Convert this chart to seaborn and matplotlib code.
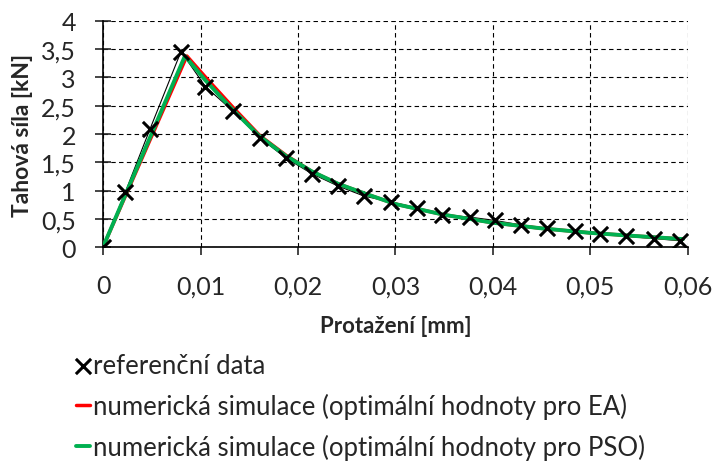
import numpy as np
import pandas as pd
import matplotlib
matplotlib.use("Agg")
import matplotlib.pyplot as plt
import seaborn as sns

# referenční data (měřené body)
ref_x = [0.0, 0.00228, 0.0048, 0.0080, 0.0105, 0.0133, 0.0161, 0.0188, 0.0214,
         0.0241, 0.0268, 0.0295, 0.0322, 0.0348, 0.0376, 0.0402, 0.0429, 0.0456,
         0.0484, 0.0510, 0.0537, 0.0565, 0.0592]
ref_y = [0.0, 0.97, 2.08, 3.46, 2.84, 2.41, 1.93, 1.57, 1.30,
         1.08, 0.90, 0.80, 0.69, 0.57, 0.53, 0.47, 0.39, 0.33,
         0.28, 0.23, 0.19, 0.15, 0.11]

# numerická simulace - EA
ea_x = [0.0, 0.0086, 0.0107, 0.0134, 0.0161, 0.0188, 0.0214, 0.0241, 0.0268,
        0.030, 0.035, 0.040, 0.045, 0.050, 0.055, 0.0595]
ea_y = [0.0, 3.38, 2.97, 2.46, 1.97, 1.62, 1.34, 1.12, 0.95,
        0.76, 0.57, 0.43, 0.33, 0.25, 0.19, 0.14]

# numerická simulace - PSO
pso_x = [0.0, 0.0084, 0.0105, 0.0132, 0.0160, 0.0187, 0.0214, 0.0241, 0.0268,
         0.030, 0.035, 0.040, 0.045, 0.050, 0.055, 0.0595]
pso_y = [0.0, 3.38, 2.95, 2.45, 1.97, 1.62, 1.34, 1.12, 0.95,
         0.76, 0.57, 0.43, 0.33, 0.25, 0.19, 0.14]

x_ticks = [0, 0.01, 0.02, 0.03, 0.04, 0.05, 0.06]
x_tick_labels = ["0", "0,01", "0,02", "0,03", "0,04", "0,05", "0,06"]
y_ticks = [0, 0.5, 1, 1.5, 2, 2.5, 3, 3.5, 4]
y_tick_labels = ["0", "0,5", "1", "1,5", "2", "2,5", "3", "3,5", "4"]

sns.set_style("white")
plt.rcParams["font.family"] = ["Lato", "DejaVu Sans"]

fig = plt.figure(figsize=(7.18, 4.64), dpi=100)
ax = fig.add_axes([0.1435, 0.4655, 0.8145, 0.4871])

# tenká spojnice referenčních bodů
sns.lineplot(x=ref_x, y=ref_y, ax=ax, color="black", linewidth=0.8,
             sort=False, estimator=None, legend=False, zorder=2)
sns.lineplot(x=ea_x, y=ea_y, ax=ax, color="#ff0000", linewidth=2.5,
             sort=False, estimator=None, zorder=3,
             label="numerická simulace (optimální hodnoty pro EA)")
sns.lineplot(x=pso_x, y=pso_y, ax=ax, color="#00b050", linewidth=2.8,
             sort=False, estimator=None, zorder=4,
             label="numerická simulace (optimální hodnoty pro PSO)")
sns.scatterplot(x=ref_x, y=ref_y, ax=ax, marker="x", s=120, color="black",
                linewidth=2.2, zorder=5, label="referenční data")

ax.set_xlim(0, 0.06)
ax.set_ylim(0, 4)
ax.set_xticks(x_ticks)
ax.set_xticklabels(x_tick_labels)
ax.set_yticks(y_ticks)
ax.set_yticklabels(y_tick_labels)
ax.grid(True, color="black", linestyle=(0, (4, 3)), linewidth=0.8)
ax.set_axisbelow(True)
for s in ["top", "right"]:
    ax.spines[s].set_visible(False)
for s in ["left", "bottom"]:
    ax.spines[s].set_color("black")
    ax.spines[s].set_linewidth(1.2)
ax.tick_params(axis="y", direction="inout", length=11, width=1.2,
               labelsize=18, left=True, pad=14)
ax.tick_params(axis="x", direction="out", length=6, width=1.2,
               labelsize=18, bottom=True, pad=13.5)
ax.set_xlabel("Protažení [mm]", fontsize=16, fontweight="bold", labelpad=13)
ax.set_ylabel("Tahová síla [kN]", fontsize=16.5, fontweight="bold")
ax.yaxis.set_label_coords(-0.1197, 0.5)

handles, labels = ax.get_legend_handles_labels()
order = [2, 0, 1]
ax.legend([handles[i] for i in order], [labels[i] for i in order],
          loc="upper left", bbox_to_anchor=(76 / 718, 1 - 354 / 464),
          bbox_transform=fig.transFigure, frameon=False, fontsize=18.5,
          handlelength=0.55, handletextpad=0.1, labelspacing=0.58,
          borderpad=0, borderaxespad=0)

fig.savefig("out.png", dpi=100)
plt.close(fig)
